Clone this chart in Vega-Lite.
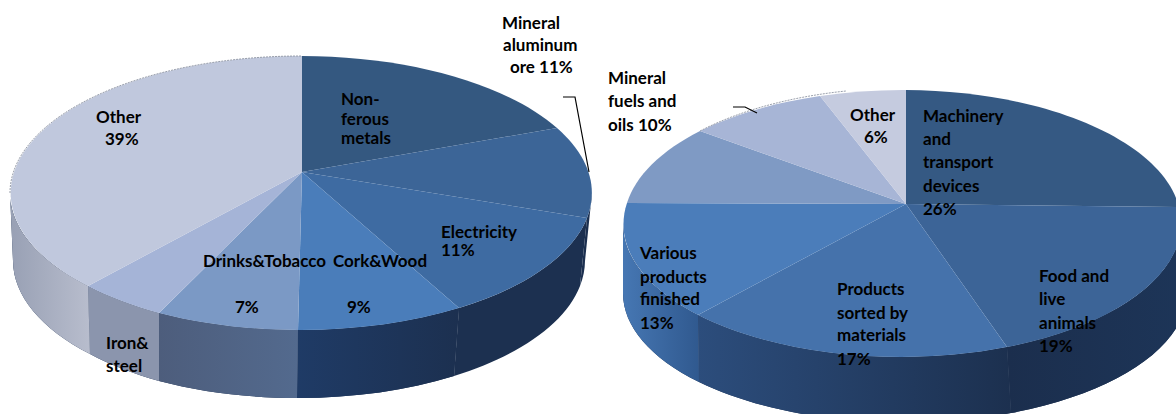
{
  "$schema": "https://vega.github.io/schema/vega-lite/v6.json",
  "width": 1176,
  "height": 414,
  "autosize": {"type": "fit", "contains": "padding"},
  "padding": 0,
  "background": "#ffffff",
  "config": {"view": {"stroke": null}},
  "resolve": {"scale": {"x": "independent", "y": "independent"}},
  "layer": [
    {
      "description": "Two tilted pies: each wedge outline comes from the shape scale and is anchored at its pie's hub; shaded side walls get their own gradient layers.",
      "data": {"values": [
        {"pie": "A", "slice": "Mineral aluminum", "part": "side", "id": "A aluminum side", "share": 11},
        {"pie": "A", "slice": "Electricity", "part": "side", "id": "A electricity side", "share": 11},
        {"pie": "A", "slice": "Cork&Wood", "part": "side", "id": "A cork side", "share": 9},
        {"pie": "A", "slice": "Drinks&Tobacco", "part": "side", "id": "A drinks side", "share": 7},
        {"pie": "A", "slice": "Iron&steel", "part": "side", "id": "A iron side", "share": 6},
        {"pie": "A", "slice": "Other", "part": "side", "id": "A other side", "share": 39},
        {"pie": "A", "slice": "Non-ferous metals", "part": "top", "id": "A metals top", "share": 17},
        {"pie": "A", "slice": "Mineral aluminum", "part": "top", "id": "A aluminum top", "share": 11},
        {"pie": "A", "slice": "Electricity", "part": "top", "id": "A electricity top", "share": 11},
        {"pie": "A", "slice": "Cork&Wood", "part": "top", "id": "A cork top", "share": 9},
        {"pie": "A", "slice": "Drinks&Tobacco", "part": "top", "id": "A drinks top", "share": 7},
        {"pie": "A", "slice": "Iron&steel", "part": "top", "id": "A iron top", "share": 6},
        {"pie": "A", "slice": "Other", "part": "top", "id": "A other top", "share": 39},
        {"pie": "A", "slice": "Other", "part": "rim", "id": "A other rim", "share": 39},
        {"pie": "B", "slice": "Food and live animals", "part": "side", "id": "B food side", "share": 19},
        {"pie": "B", "slice": "Products sorted by materials", "part": "side", "id": "B products side", "share": 17},
        {"pie": "B", "slice": "Various products finished", "part": "side", "id": "B various side", "share": 13},
        {"pie": "B", "slice": "Machinery and transport devices", "part": "top", "id": "B machinery top", "share": 26},
        {"pie": "B", "slice": "Food and live animals", "part": "top", "id": "B food top", "share": 19},
        {"pie": "B", "slice": "Products sorted by materials", "part": "top", "id": "B products top", "share": 17},
        {"pie": "B", "slice": "Various products finished", "part": "top", "id": "B various top", "share": 13},
        {"pie": "B", "slice": "Unlabelled", "part": "top", "id": "B unlabelled top", "share": 9},
        {"pie": "B", "slice": "Mineral fuels and oils", "part": "top", "id": "B fuels top", "share": 10},
        {"pie": "B", "slice": "Other", "part": "top", "id": "B other top", "share": 6},
        {"pie": "B", "slice": "Mineral fuels and oils", "part": "rim", "id": "B fuels rim", "share": 10}
      ]},
      "encoding": {
        "x": {"field": "pie", "type": "nominal", "axis": null, "scale": {"type": "point", "domain": ["A", "B"], "range": [302, 906], "padding": 0}},
        "y": {"field": "pie", "type": "nominal", "axis": null, "scale": {"type": "point", "domain": ["A", "B"], "range": [172, 204], "padding": 0}},
        "shape": {
          "field": "id", "type": "nominal", "legend": null,
          "scale": {
            "domain": [
              "A aluminum side", "A electricity side", "A cork side", "A drinks side", "A iron side", "A other side",
              "A metals top", "A aluminum top", "A electricity top", "A cork top", "A drinks top", "A iron top", "A other top", "A other rim",
              "B food side", "B products side", "B various side",
              "B machinery top", "B food top", "B products top", "B various top", "B unlabelled top", "B fuels top", "B other top", "B fuels rim"
            ],
            "range": [
              "M290 21A291 137 0 0 1 285 46L278 114A286 137 0 0 0 283 89Z",
              "M285 46A291 137 0 0 1 157 136L152 204A286 137 0 0 0 278 114Z",
              "M157 136A291 137 0 0 1 -4 158L-5 226A286 137 0 0 0 152 204Z",
              "M-4 158A291 137 0 0 1 -143 141L-143 209A286 137 0 0 0 -5 226Z",
              "M-143 141A291 137 0 0 1 -214 114L-212 182A286 137 0 0 0 -143 209Z",
              "M-214 114A291 137 0 0 1 -292 21L-289 89A286 137 0 0 0 -212 182Z",
              "M0 0L0 -116A291 137 0 0 1 255 -44Z",
              "M0 0L255 -44A291 137 0 0 1 285 46Z",
              "M0 0L285 46A291 137 0 0 1 157 136Z",
              "M0 0L157 136A291 137 0 0 1 -4 158Z",
              "M0 0L-4 158A291 137 0 0 1 -143 141Z",
              "M0 0L-143 141A291 137 0 0 1 -214 114Z",
              "M0 0L-214 114A291 137 0 0 1 0 -116Z",
              "M-292 21A291 137 0 0 1 0 -116",
              "M275 19.5A279 133.5 0 0 1 101 143L105 209A282 130 0 0 0 281 89Z",
              "M101 143A279 133.5 0 0 1 -208 111L-207 178A282 130 0 0 0 105 209Z",
              "M-208 111A279 133.5 0 0 1 -283 19.5L-283 89A282 130 0 0 0 -207 178Z",
              "M0 0L0 -114A279 133.5 0 0 1 273 3Z",
              "M0 0L273 3A279 133.5 0 0 1 101 143Z",
              "M0 0L101 143A279 133.5 0 0 1 -208 111Z",
              "M0 0L-208 111A279 133.5 0 0 1 -279 -1Z",
              "M0 0L-279 -1A279 133.5 0 0 1 -206 -73Z",
              "M0 0L-206 -73A279 133.5 0 0 1 -86 -108Z",
              "M0 0L-86 -108A279 133.5 0 0 1 0 -114Z",
              "M-206 -73A279 133.5 0 0 1 -60 -113"
            ]
          }
        }
      },
      "layer": [
        {
          "transform": [{"filter": "datum.part === 'side'"}],
          "mark": {"type": "point", "filled": true, "opacity": 1, "size": 4, "strokeWidth": 0, "clip": true, "fill": "#1c3050"}
        },
        {
          "transform": [{"filter": "datum.id === 'A cork side'"}],
          "mark": {"type": "point", "filled": true, "opacity": 1, "size": 4, "strokeWidth": 0, "clip": true, "fill": {"gradient": "linear", "x1": 0, "x2": 1, "y1": 0, "y2": 0, "stops": [{"offset": 0, "color": "#1f3b66"}, {"offset": 1, "color": "#1c3050"}]}}
        },
        {
          "transform": [{"filter": "datum.id === 'A drinks side'"}],
          "mark": {"type": "point", "filled": true, "opacity": 1, "size": 4, "strokeWidth": 0, "clip": true, "fill": {"gradient": "linear", "x1": 0, "x2": 1, "y1": 0, "y2": 0, "stops": [{"offset": 0, "color": "#4d5d7c"}, {"offset": 1, "color": "#536a8e"}]}}
        },
        {
          "transform": [{"filter": "datum.id === 'A iron side'"}],
          "mark": {"type": "point", "filled": true, "opacity": 1, "size": 4, "strokeWidth": 0, "clip": true, "fill": "#8b95ad"}
        },
        {
          "transform": [{"filter": "datum.id === 'A other side'"}],
          "mark": {"type": "point", "filled": true, "opacity": 1, "size": 4, "strokeWidth": 0, "clip": true, "fill": {"gradient": "linear", "x1": 0, "x2": 1, "y1": 0, "y2": 0, "stops": [{"offset": 0, "color": "#98a0b4"}, {"offset": 1, "color": "#b8bdcd"}]}}
        },
        {
          "transform": [{"filter": "datum.id === 'B food side'"}],
          "mark": {"type": "point", "filled": true, "opacity": 1, "size": 4, "strokeWidth": 0, "clip": true, "fill": {"gradient": "linear", "x1": 0, "x2": 1, "y1": 0, "y2": 0, "stops": [{"offset": 0, "color": "#1b2e4d"}, {"offset": 1, "color": "#1d3558"}]}}
        },
        {
          "transform": [{"filter": "datum.id === 'B products side'"}],
          "mark": {"type": "point", "filled": true, "opacity": 1, "size": 4, "strokeWidth": 0, "clip": true, "fill": {"gradient": "linear", "x1": 0, "x2": 1, "y1": 0, "y2": 0, "stops": [{"offset": 0, "color": "#2c4d7c"}, {"offset": 1, "color": "#1c304f"}]}}
        },
        {
          "transform": [{"filter": "datum.id === 'B various side'"}],
          "mark": {"type": "point", "filled": true, "opacity": 1, "size": 4, "strokeWidth": 0, "clip": true, "fill": {"gradient": "linear", "x1": 0, "x2": 1, "y1": 0, "y2": 0, "stops": [{"offset": 0, "color": "#4677b3"}, {"offset": 1, "color": "#30598f"}]}}
        },
        {
          "transform": [{"filter": "datum.part === 'top'"}],
          "mark": {"type": "point", "filled": true, "opacity": 1, "size": 4, "strokeWidth": 0, "clip": true},
          "encoding": {
            "fill": {
              "field": "id", "type": "nominal", "legend": null,
              "scale": {
                "domain": ["A metals top", "A aluminum top", "A electricity top", "A cork top", "A drinks top", "A iron top", "A other top", "B machinery top", "B food top", "B products top", "B various top", "B unlabelled top", "B fuels top", "B other top"],
                "range": ["#345880", "#3c6597", "#3e6ba2", "#4a7dba", "#7b99c5", "#a5b4d7", "#c0c8dd", "#355983", "#3c6497", "#4572ab", "#4b7dba", "#7f9ac4", "#a7b5d6", "#c5cbdf"]
              }
            }
          }
        },
        {
          "transform": [{"filter": "datum.part === 'rim'"}],
          "mark": {"type": "point", "filled": false, "fill": null, "opacity": 1, "size": 4, "stroke": "#8f95a3", "strokeWidth": 0.9, "strokeDash": [2, 1], "clip": true}
        }
      ]
    },
    {
      "description": "Leader lines from the outside labels to their wedges.",
      "data": {"values": [
        {"leader": "aluminum", "step": 1, "x": 563, "y": 97},
        {"leader": "aluminum", "step": 2, "x": 575, "y": 97},
        {"leader": "aluminum", "step": 3, "x": 589, "y": 172},
        {"leader": "fuels", "step": 1, "x": 733, "y": 107},
        {"leader": "fuels", "step": 2, "x": 745, "y": 107},
        {"leader": "fuels", "step": 3, "x": 757, "y": 113}
      ]},
      "mark": {"type": "line", "color": "#000000", "strokeWidth": 1.2},
      "encoding": {
        "x": {"field": "x", "type": "quantitative", "axis": null, "scale": {"domain": [0, 1176], "nice": false, "zero": false}},
        "y": {"field": "y", "type": "quantitative", "axis": null, "scale": {"domain": [414, 0], "nice": false, "zero": false}},
        "detail": {"field": "leader"},
        "order": {"field": "step", "type": "quantitative"}
      }
    },
    {
      "description": "Wedge captions, one row per printed line.",
      "data": {"values": [
        {"text": "Mineral", "x": 502, "y": 24},
        {"text": "aluminum", "x": 503, "y": 46},
        {"text": "ore 11%", "x": 510, "y": 68},
        {"text": "Non-", "x": 341, "y": 100},
        {"text": "ferous", "x": 341, "y": 120},
        {"text": "metals", "x": 341, "y": 139},
        {"text": "Other", "x": 96, "y": 118},
        {"text": "39%", "x": 105, "y": 140},
        {"text": "Electricity", "x": 441, "y": 233},
        {"text": "11%", "x": 441, "y": 251},
        {"text": "Drinks&Tobacco", "x": 203, "y": 262},
        {"text": "Cork&Wood", "x": 333, "y": 262},
        {"text": "7%", "x": 235, "y": 308},
        {"text": "9%", "x": 347, "y": 308},
        {"text": "Iron&", "x": 106, "y": 344},
        {"text": "steel", "x": 106, "y": 367},
        {"text": "Mineral", "x": 608, "y": 79},
        {"text": "fuels and", "x": 608, "y": 102},
        {"text": "oils 10%", "x": 608, "y": 126},
        {"text": "Other", "x": 850, "y": 116},
        {"text": "6%", "x": 864, "y": 138},
        {"text": "Machinery", "x": 923, "y": 117},
        {"text": "and", "x": 923, "y": 140},
        {"text": "transport", "x": 923, "y": 163},
        {"text": "devices", "x": 923, "y": 187},
        {"text": "26%", "x": 923, "y": 210},
        {"text": "Various", "x": 640, "y": 254},
        {"text": "products", "x": 640, "y": 278},
        {"text": "finished", "x": 640, "y": 300},
        {"text": "13%", "x": 640, "y": 324},
        {"text": "Products", "x": 837, "y": 290},
        {"text": "sorted by", "x": 837, "y": 314},
        {"text": "materials", "x": 837, "y": 336},
        {"text": "17%", "x": 837, "y": 360},
        {"text": "Food and", "x": 1039, "y": 277},
        {"text": "live", "x": 1039, "y": 300},
        {"text": "animals", "x": 1039, "y": 324},
        {"text": "19%", "x": 1039, "y": 347}
      ]},
      "mark": {"type": "text", "align": "left", "baseline": "middle", "font": "Lato", "fontWeight": "bold", "fontSize": 17, "color": "#000000"},
      "encoding": {
        "x": {"field": "x", "type": "quantitative", "axis": null, "scale": {"domain": [0, 1176], "nice": false, "zero": false}},
        "y": {"field": "y", "type": "quantitative", "axis": null, "scale": {"domain": [414, 0], "nice": false, "zero": false}},
        "text": {"field": "text"}
      }
    }
  ]
}
